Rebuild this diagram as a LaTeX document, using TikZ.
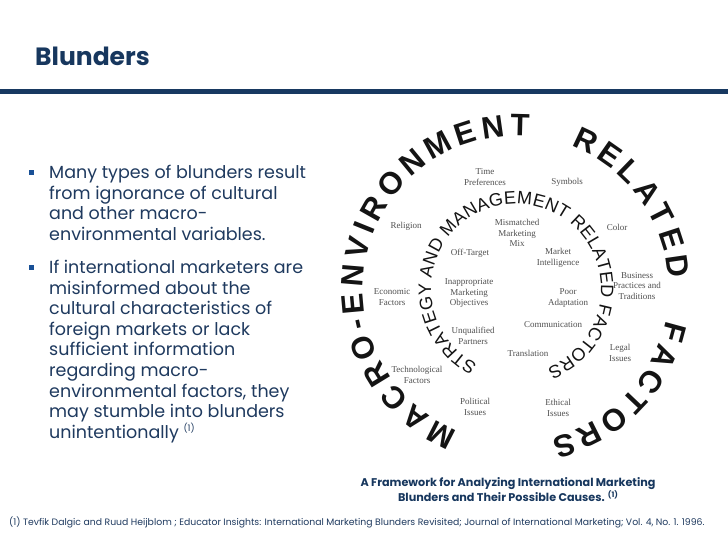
\documentclass[tikz,border=0pt]{standalone}
\usepackage{fontspec}
\setmainfont{Poppins}
\newfontfamily\ringfont{Liberation Sans}
\newfontfamily\factorfont{Liberation Serif}
\usetikzlibrary{decorations.text}

\definecolor{titleblue}{RGB}{23,55,94}
\definecolor{bodyblue}{RGB}{31,58,95}
\definecolor{rulenavy}{RGB}{24,57,97}
\definecolor{bulletblue}{RGB}{25,80,150}
\definecolor{ringblack}{RGB}{20,20,20}
\definecolor{factorgray}{RGB}{80,80,80}

\newcommand{\outerringfont}{\ringfont\bfseries\fontsize{31}{31}\selectfont}
\newcommand{\innerringfont}{\ringfont\fontsize{18}{18}\selectfont}

\tikzset{
  factor/.style={font=\factorfont\fontsize{9}{10.5}\selectfont, text=factorgray, align=center, inner sep=0pt},
  bullettext/.style={anchor=north west, align=left, inner sep=0pt, text=bodyblue, font=\fontsize{17.5}{20.6}\selectfont},
  bulletsq/.style={fill=bulletblue, minimum size=5pt, inner sep=0pt},
  ringword/.style={decorate, decoration={text along path, text color=ringblack, text align={fit to path}, text={|\outerringfont|#1}}},
}

\begin{document}
\begin{tikzpicture}[x=1pt,y=1pt]
  \useasboundingbox (0,0) rectangle (728,546);
  \fill[white] (0,0) rectangle (728,546);

  % heading and rule
  \node[anchor=base west, inner sep=0pt, text=titleblue, font=\bfseries\fontsize{25}{25}\selectfont] (title) at (35,480) {Blunders};
  \draw[rulenavy, line width=4.5pt] (0,454.5) -- (728,454.5);

  % bullet points
  \node[bulletsq] (sqA) at (31,373) {};
  \node[bullettext] (bulletA) at (49,381) {Many types of blunders result\\from ignorance of cultural\\and other macro-\\environmental variables.};
  \node[bulletsq] (sqB) at (31,278) {};
  \node[bullettext] (bulletB) at (49,286) {If international marketers are\\misinformed about the\\cultural characteristics of\\foreign markets or lack\\sufficient information\\regarding macro-\\environmental factors, they\\may stumble into blunders\\unintentionally {\fontsize{9}{9}\selectfont\raisebox{7pt}{(1)}}};

  % framework: both rings share one centre
  \coordinate (ctr) at (516,257);

  % outer ring, one arc per word
  \path[ringword=MACRO-ENVIRONMENT] ([shift={(247.7:153)}]ctr) arc[start angle=247.7, end angle=85, radius=153];
  \path[ringword=RELATED] ([shift={(69:153)}]ctr) arc[start angle=69, end angle=4, radius=153];
  \path[ringword=FACTORS] ([shift={(-11.7:153)}]ctr) arc[start angle=-11.7, end angle=-76.7, radius=153];

  % inner ring
  \path[decorate, decoration={text along path, text color=ringblack, text align={fit to path},
      text={|\innerringfont|STRATEGY AND MANAGEMENT RELATED FACTORS}}]
    ([shift={(243:85)}]ctr) arc[start angle=243, end angle=-68.5, radius=85];

  % macro-environment factors (between the rings)
  \node[factor] (time)     at (485,369) {Time\\Preferences};
  \node[factor] (symbols)  at (567,364) {Symbols};
  \node[factor] (religion) at (406,320) {Religion};
  \node[factor] (color)    at (617,319) {Color};
  \node[factor] (business) at (637,260) {Business\\Practices and\\Traditions};
  \node[factor] (economic) at (392,249) {Economic\\Factors};
  \node[factor] (legal)    at (620,193) {Legal\\Issues};
  \node[factor] (techno)   at (417,171) {Technological\\Factors};
  \node[factor] (politic)  at (475,139) {Political\\Issues};
  \node[factor] (ethic)    at (558,138) {Ethical\\Issues};

  % strategy and management factors (inside the inner ring)
  \node[factor] (mismatch) at (517,313) {Mismatched\\Marketing\\Mix};
  \node[factor] (offtarget) at (470,293) {Off-Target};
  \node[factor] (intel)    at (558,288) {Market\\Intelligence};
  \node[factor] (inapt)    at (469,253) {Inappropriate\\Marketing\\Objectives};
  \node[factor] (poor)     at (568,248) {Poor\\Adaptation};
  \node[factor] (commun)   at (553,221) {Communication};
  \node[factor] (unqual)   at (473,210) {Unqualified\\Partners};
  \node[factor] (transl)   at (528,193) {Translation};

  % caption and source
  \node[anchor=north, align=center, inner sep=0pt, text=titleblue, font=\bfseries\fontsize{11.2}{12.8}\selectfont] (caption) at (508,69)
    {A Framework for Analyzing International Marketing\\Blunders and Their Possible Causes. {\fontsize{7.5}{7.5}\selectfont\raisebox{4pt}{(1)}}};
  \node[anchor=base west, inner sep=0pt, text=bodyblue, font=\fontsize{9.3}{10}\selectfont] (source) at (9,20)
    {(1) Tevfik Dalgic and Ruud Heijblom ; Educator Insights: International Marketing Blunders Revisited; Journal of International Marketing; Vol. 4, No. 1. 1996.};
\end{tikzpicture}
\end{document}
